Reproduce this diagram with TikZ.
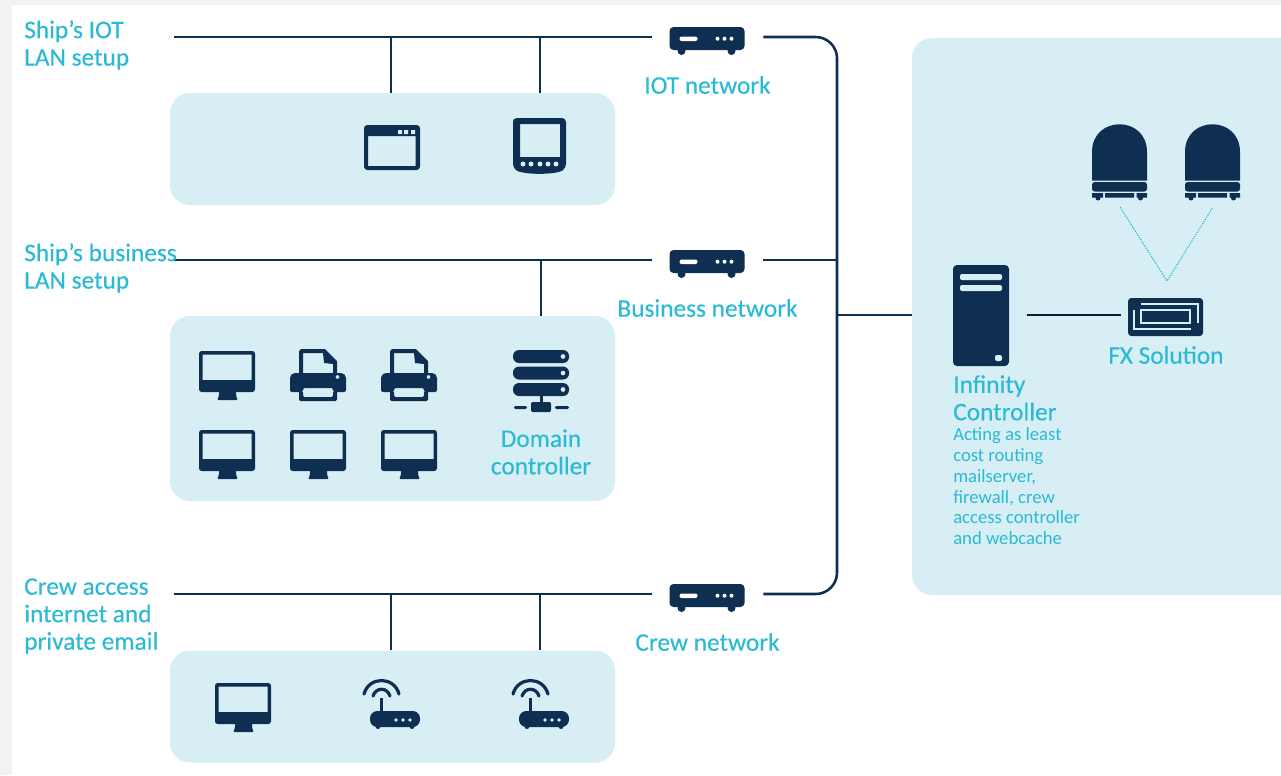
\documentclass[tikz,border=0pt]{standalone}
\usepackage{fontspec}
\setmainfont{Carlito}[FakeBold=0.25]
\newfontface\notefont{Carlito}
\definecolor{navy}{HTML}{0F2F52}
\definecolor{panelblue}{HTML}{D7EEF5}
\definecolor{labelblue}{HTML}{2BBAD5}
\tikzset{
  netline/.style={navy, line width=1.9pt},
  panel/.style={fill=panelblue, rounded corners=15pt, inner sep=0pt},
  routerbox/.style={inner sep=0pt, minimum width=83.25pt, minimum height=20pt},
  netlabel/.style={labelblue, inner sep=0pt, font=\fontsize{19}{20.6}\selectfont, align=left},
  smalllabel/.style={labelblue, inner sep=0pt, font=\notefont\fontsize{14}{15.7}\selectfont, align=left},
  monitor/.pic={
    \fill[navy, even odd rule, rounded corners=2pt] (0,0) rectangle (56,41) [sharp corners] (3.5,3.5) rectangle (52.5,29);
    \fill[navy, rounded corners=1pt] (20,40) -- (37,40) -- (37,45) -- (39,49) -- (18,49) -- (20,45) -- cycle;
  },
  printer/.pic={
    \fill[navy, even odd rule] (9,24) -- (9,2) -- (11,0) -- (35,0) -- (47,12) -- (47,24) -- cycle
      (13,25) -- (13,4) -- (33,4) -- (34,14) -- (43,15) -- (43,25) -- cycle;
    \fill[navy, even odd rule, rounded corners=1.5pt] (0,43) -- (0,27) -- (3,24) -- (53,24) -- (56,27) -- (56,43) -- (43,43) -- (43,39) -- (13,39) -- (13,43) -- cycle
      (47.5,28) circle (2);
    \fill[navy, rounded corners=1pt] (9,42) -- (9,52) -- (47,52) -- (47,42) -- (43,42) -- (43,48) -- (13,48) -- (13,42) -- cycle;
  },
  serverstack/.pic={
    \foreach \ytop in {0,16.5,33} {
      \fill[navy, even odd rule, rounded corners=4.5pt] (0,\ytop) rectangle (56,\ytop+13) (50,\ytop+6.5) circle (2.5);
    }
    \fill[navy] (26.5,45) rectangle (29.5,54);
    \fill[navy, rounded corners=1pt] (18,52) rectangle (38,62);
    \fill[navy, rounded corners=1pt] (1,56) rectangle (14,59) (42,56) rectangle (56,59);
  },
  router/.pic={
    \fill[navy, rounded corners=3pt] (0,0) rectangle (75,23);
    \fill[navy] (12,24) circle (4) (62,24) circle (4);
    \fill[white, rounded corners=1.5pt] (10,9.5) rectangle (28,14);
    \fill[white] (48,11.7) circle (2) (55,11.7) circle (2) (62,11.7) circle (2);
  },
  wifirouter/.pic={
    \draw[navy, line width=2.4pt, line cap=round] (1,15) .. controls (6,-3) and (31,-3) .. (36,15);
    \draw[navy, line width=2.4pt, line cap=round] (10,17) .. controls (13,8) and (24,8) .. (27,17);
    \fill[navy] (16.5,19) rectangle (19.5,33);
    \fill[navy, rounded corners=5.5pt] (7,32) rectangle (57,48);
    \fill[navy] (15,47.5) circle (2.5) (49,47.5) circle (2.5);
    \fill[panelblue] (33,41) circle (1.8) (40,41) circle (1.8) (47,41) circle (1.8);
  },
  browserwin/.pic={
    \fill[navy, even odd rule, rounded corners=2.5pt] (0,0) rectangle (56,45) [sharp corners] (4,11) rectangle (51.5,41);
    \fill[panelblue] (34,5) rectangle (38,9) (40,5) rectangle (44,9) (47,5) rectangle (51,9);
  },
  tablet/.pic={
    \fill[navy, even odd rule, rounded corners=3pt] (0,4) -- (0,50) .. controls (10,57) and (43,57) .. (53,50) -- (53,0) -- (0,0) -- cycle
      [sharp corners] (7,6) rectangle (47,39);
    \fill[panelblue] (10,46) circle (2.5) (18,46) circle (2.5) (27,46) circle (2.5) (35,46) circle (2.5) (43,46) circle (2.5);
  },
  radome/.pic={
    \fill[navy] (0,56.5) -- (0,28) .. controls (0,-9) and (55,-9) .. (55,28) -- (55,56.5) -- cycle;
    \fill[navy, rounded corners=2pt] (0,58) -- (55,58) -- (55,67.5) -- (0,67.5) -- cycle;
    \fill[navy] (0,69) rectangle (11,73.5) (13,69) rectangle (42,73.5) (44.5,69) rectangle (55,73.5);
    \fill[navy] (6,74) circle (2.5) (48.5,74) circle (2.5);
  },
  tower/.pic={
    \fill[navy, rounded corners=3pt] (0,0) rectangle (56,101);
    \fill[panelblue, rounded corners=1.5pt] (7,9) rectangle (49,15) (7,20) rectangle (49,26) (42,90) rectangle (49,96);
  },
  fxbox/.pic={
    \fill[navy, rounded corners=2.5pt] (0,0) rectangle (75,38);
    \draw[panelblue, line width=.8pt] (13,12) rectangle (62,25);
    \draw[panelblue, line width=.8pt] (13,6) -- (70,6) -- (70,25);
    \draw[panelblue, line width=.8pt] (6,12) -- (6,31) -- (63,31);
  }
}
\begin{document}
\begin{tikzpicture}[x=.75pt, y=-.75pt]
  \clip (0,0) rectangle (1281,775);
  \fill[black!5] (0,0) rectangle (1281,775);
  \fill[white] (12,5) rectangle (1281,775);

  % Panels
  \node[panel, minimum width=333.75pt, minimum height=84pt] (iotpanel) at (392.5,149) {};
  \node[panel, minimum width=333.75pt, minimum height=138.75pt] (bizpanel) at (392.5,408.5) {};
  \node[panel, minimum width=333.75pt, minimum height=84pt] (crewpanel) at (392.5,706.5) {};
  \node[panel, minimum width=299.25pt, minimum height=417.75pt] (ctrlpanel) at (1111.5,316.5) {};

  % Routers
  \node[routerbox] (iotrouter) at (707.5,37) {};
  \node[routerbox] (bizrouter) at (707.5,260) {};
  \node[routerbox] (crewrouter) at (707.5,594) {};
  \pic at (669.5,27) {router};
  \pic at (669.5,250) {router};
  \pic at (669.5,584) {router};

  % Bus lines
  \coordinate (iotbus) at (174,37);
  \coordinate (bizbus) at (174,260);
  \coordinate (crewbus) at (174,594);
  \draw[netline] (iotbus) -- (iotrouter);
  \draw[netline] (bizbus) -- (bizrouter);
  \draw[netline] (crewbus) -- (crewrouter);
  \coordinate (iotdropa) at (391,37);
  \coordinate (iotdropb) at (540,37);
  \coordinate (bizdrop) at (541,260);
  \coordinate (crewdropa) at (391,594);
  \coordinate (crewdropb) at (540,594);
  \draw[netline] (iotdropa) -- (iotdropa |- iotpanel.north);
  \draw[netline] (iotdropb) -- (iotdropb |- iotpanel.north);
  \draw[netline] (bizdrop) -- (bizdrop |- bizpanel.north);
  \draw[netline] (crewdropa) -- (crewdropa |- crewpanel.north);
  \draw[netline] (crewdropb) -- (crewdropb |- crewpanel.north);

  % Trunk
  \coordinate (trunktop) at (837,37);
  \coordinate (trunkmid) at (837,315);
  \coordinate (trunkbot) at (837,594);
  \draw[netline, rounded corners=16pt] (iotrouter.east) -- (trunktop) -- (trunkbot) -- (crewrouter.east);
  \draw[netline] (bizrouter.east) -- (bizrouter.east -| trunktop);
  \draw[netline] (trunkmid) -- (trunkmid -| ctrlpanel.west);

  % Devices
  \pic at (364,125) {browserwin};
  \pic at (513,118) {tablet};
  \pic at (199,351) {monitor};
  \pic at (290,349) {printer};
  \pic at (381,349) {printer};
  \pic at (513,350) {serverstack};
  \pic at (199,430) {monitor};
  \pic at (290,430) {monitor};
  \pic at (381,430) {monitor};
  \pic at (215,683) {monitor};
  \pic at (363,679) {wifirouter};
  \pic at (512,679) {wifirouter};

  % Controller side
  \pic at (953,265) {tower};
  \pic at (1128,298) {fxbox};
  \pic at (1092,124) {radome};
  \pic at (1185,124) {radome};
  \coordinate (towerport) at (1027,315);
  \coordinate (fxport) at (1121,315);
  \draw[navy!60!black, line width=1.6pt] (towerport) -- (fxport);
  \coordinate (domea) at (1120,207);
  \coordinate (domeb) at (1213,207);
  \coordinate (fxsat) at (1167,281);
  \draw[labelblue, line width=.9pt, densely dotted] (domea) -- (fxsat) -- (domeb);

  % Labels
  \node[netlabel, anchor=north west] (iotlan) at (24,20) {Ship's IOT\\LAN setup};
  \node[netlabel, anchor=north west] (bizlan) at (24,243) {Ship's business\\LAN setup};
  \node[netlabel, anchor=north west] (crewlan) at (24,578) {Crew access\\internet and\\private email};
  \node[netlabel] (iotname) at (707.5,85) {IOT network};
  \node[netlabel] (bizname) at (707.5,308) {Business network};
  \node[netlabel] (crewname) at (707.5,642) {Crew network};
  \node[netlabel, align=center] (domname) at (541,452) {Domain\\controller};
  \node[netlabel] (fxname) at (1166,355) {FX Solution};
  \node[netlabel, anchor=north west] (ctrlname) at (953,375) {Infinity\\Controller};
  \node[smalllabel, anchor=north west] (ctrlnote) at (953,427) {Acting as least\\cost routing\\mailserver,\\firewall, crew\\access controller\\and webcache};
\end{tikzpicture}
\end{document}
